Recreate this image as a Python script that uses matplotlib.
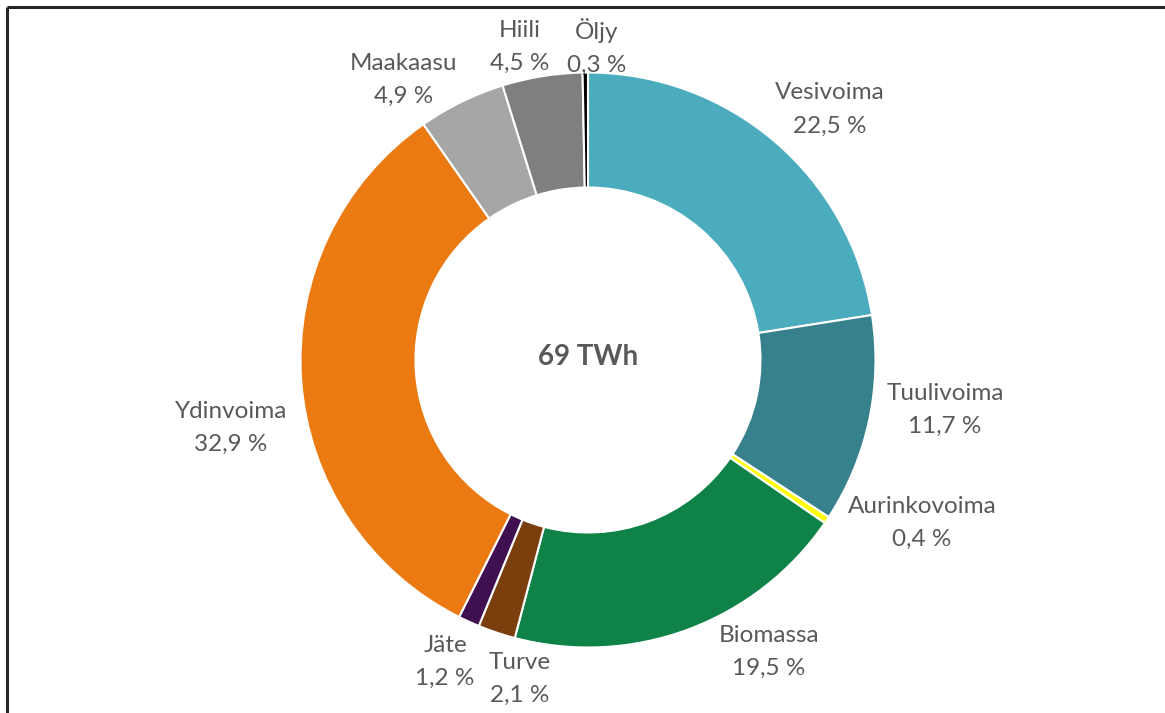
import matplotlib.pyplot as plt
from matplotlib.lines import Line2D

names = ['Vesivoima', 'Tuulivoima', 'Aurinkovoima', 'Biomassa', 'Turve',
         'Jäte', 'Ydinvoima', 'Maakaasu', 'Hiili', 'Öljy']
shares = [22.5, 11.7, 0.4, 19.5, 2.1, 1.2, 32.9, 4.9, 4.5, 0.3]
colors = ['#4BACBD', '#37818C', '#FFFF00', '#0E8247', '#7B3F0E',
          '#3F0F4F', '#EB7A12', '#A6A6A6', '#7F7F7F', '#000000']
total_label = '69 TWh'

# label centres, in units of the outer radius
label_pos = [(0.842, 0.872), (1.242, -0.174), (1.162, -0.567), (0.630, -1.016),
             (-0.237, -1.110), (-0.497, -1.050), (-1.242, -0.237),
             (-0.643, 0.974), (-0.237, 1.089), (0.031, 1.089)]

W, H = 1165, 713
cx, cy, r = 588, 360, 287.5

fig = plt.figure(figsize=(W / 100, H / 100), dpi=100)
ax = fig.add_axes([0, 0, 1, 1])
ax.pie(shares, colors=colors, startangle=90, counterclock=False, radius=1,
       wedgeprops=dict(width=0.40, edgecolor='white', linewidth=1.5))
ax.set_xlim(-cx / r, (W - cx) / r)
ax.set_ylim((cy - H) / r, cy / r)
ax.set_aspect('auto')
ax.axis('off')

txt_color = '#595959'
for name, val, (x, y) in zip(names, shares, label_pos):
    s = '%s\n%s %%' % (name, ('%.1f' % val).replace('.', ','))
    ax.text(x, y, s, ha='center', va='center', fontsize=17.5, family='Lato',
            color=txt_color, linespacing=1.72)

ax.text(0, 0.01, total_label, ha='center', va='center', fontsize=20,
        family='Lato', fontweight='bold', color=txt_color)

# frame of the screenshot (left and top edges only)
fig.add_artist(Line2D([7 / W, 7 / W], [0, 1 - 7 / H], transform=fig.transFigure,
                      color='#262626', lw=2.2, solid_capstyle='butt'))
fig.add_artist(Line2D([7 / W, 1], [1 - 7 / H, 1 - 7 / H], transform=fig.transFigure,
                      color='#262626', lw=2.2, solid_capstyle='butt'))

fig.savefig('out.png', dpi=100)
